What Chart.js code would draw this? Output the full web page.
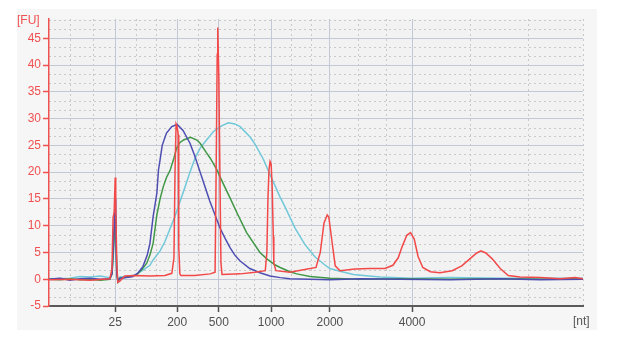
<!DOCTYPE html>
<html>
<head>
<meta charset="utf-8">
<script src="https://cdn.jsdelivr.net/npm/chart.js@4.4.1/dist/chart.umd.min.js"></script>
<style>
  html, body { margin: 0; padding: 0; background: #ffffff; }
  #wrap { position: relative; width: 618px; height: 351px; }
</style>
</head>
<body>
<div id="wrap"><canvas id="trace"></canvas></div>
<script>
// Migration axis (arbitrary units 0..100) and the ladder sizes shown as tick labels
const sizeTickPos = [12.4, 24.0, 31.8, 41.6, 52.6, 68.0];
const sizeTickLabels = ['25', '200', '500', '1000', '2000', '4000'];
const minorGridX = [3.9, 8.2, 16.3, 20.0, 27.9, 35.0, 38.4, 45.3, 49.1, 57.9, 63.1, 78.8, 89.7, 100];
const fuTicks = [-5, 0, 5, 10, 15, 20, 25, 30, 35, 40, 45];

// Ladder (red)
const ladderX = [0, 3.9, 7.7, 11.4, 11.8, 12.0, 12.2, 12.4, 12.5, 12.7, 12.9, 13.3, 14.2, 16.1, 18.9, 21.7,
  23.0, 23.4, 23.6, 23.8, 24.0, 24.2, 24.3, 24.5, 24.7, 27.3, 30.2, 31.1, 31.3, 31.5, 31.6, 31.8, 32.0, 32.2,
  32.4, 35.8, 38.6, 40.5, 40.8, 41.0, 41.2, 41.4, 41.6, 41.8, 42.0, 42.1, 42.5, 45.1, 47.9, 50.0, 50.8, 51.5,
  52.1, 52.4, 53.0, 53.6, 54.5, 57.3, 60.1, 62.9, 64.4, 65.4, 66.1, 67.0, 67.7, 68.4, 69.1, 70.0, 71.4, 73.2,
  75.5, 77.3, 78.8, 80.1, 80.9, 81.8, 83.0, 84.5, 86.0, 88.2, 92.0, 95.7, 98.5, 100];
const ladderFU = [-0.1, 0.0, -0.2, 0.1, 2.0, 11.5, 12.5, 19.0, 14.0, 2.5, -0.6, -0.3, 0.6, 0.7, 0.6, 0.7,
  1.1, 4.0, 20.0, 29.0, 28.5, 27.0, 6.0, 1.0, 0.7, 0.7, 1.0, 1.3, 20.0, 42.0, 47.0, 38.0, 20.0, 3.0,
  0.9, 1.0, 1.3, 1.6, 5.0, 15.0, 20.5, 22.0, 21.5, 17.0, 8.0, 3.0, 1.6, 1.3, 1.8, 2.2, 5.0, 10.5,
  12.0, 11.6, 7.0, 2.5, 1.6, 1.9, 2.0, 2.0, 2.6, 4.0, 6.0, 8.2, 8.7, 7.5, 4.3, 2.2, 1.4, 1.2,
  1.6, 2.5, 3.8, 4.9, 5.3, 4.9, 3.8, 2.0, 0.7, 0.4, 0.3, 0.1, 0.3, 0.1];

// Sample 1 (blue)
const blueX = [0, 2.1, 3.9, 5.8, 7.7, 9.6, 11.4, 11.8, 12.2, 12.4, 12.5, 12.7, 12.9, 13.3, 15.2, 15.7, 16.7,
  17.6, 18.4, 18.9, 19.5, 20.2, 20.5, 20.8, 21.2, 22.0, 23.0, 24.0, 25.1, 26.4, 27.3, 28.3, 29.2, 30.1, 31.1,
  32.0, 33.0, 33.9, 34.8, 35.8, 37.6, 39.5, 41.4, 43.3, 45.1, 48.9, 52.6, 58.2, 65.7, 75.1, 84.5, 92.0, 100];
const blueFU = [0.0, 0.2, -0.2, 0.1, 0.2, 0.0, 0.1, 1.0, 10.0, 15.0, 8.0, 1.0, -0.3, 0.2, 0.4, 0.5, 1.2,
  2.4, 4.5, 6.7, 11.7, 16.1, 20.4, 22.3, 25.0, 27.3, 28.5, 28.9, 27.8, 25.4, 23.0, 20.0, 17.3, 14.6, 12.0,
  9.6, 7.6, 5.9, 4.5, 3.4, 2.0, 1.2, 0.6, 0.3, 0.1, 0.0, -0.1, 0.1, 0.0, -0.1, 0.1, -0.1, 0.0];

// Sample 2 (green)
const greenX = [0, 2.1, 3.9, 5.8, 7.7, 9.6, 11.4, 11.8, 12.2, 12.4, 12.5, 12.7, 12.9, 13.3, 15.2, 16.4, 17.4,
  18.3, 18.9, 19.5, 20.2, 20.8, 21.4, 22.0, 22.7, 23.3, 23.9, 24.5, 25.2, 26.5, 27.7, 28.3, 29.5, 30.2, 31.4,
  32.6, 33.9, 35.1, 37.0, 39.5, 40.8, 42.3, 43.3, 45.1, 46.4, 48.9, 52.6, 58.2, 65.7, 75.1, 84.5, 92.0, 100];
const greenFU = [0.0, -0.1, 0.1, -0.1, 0.0, -0.2, 0.0, 1.0, 8.0, 12.0, 9.0, 1.0, -0.5, 0.2, 0.5, 0.8, 1.8,
  3.0, 4.5, 6.7, 12.0, 15.0, 17.3, 19.0, 20.4, 22.3, 24.5, 25.5, 26.0, 26.5, 26.0, 25.4, 23.6, 22.6, 20.5,
  17.9, 15.2, 12.6, 8.7, 5.0, 3.8, 2.7, 2.2, 1.4, 1.0, 0.5, 0.2, 0.0, 0.1, 0.0, 0.1, 0.0, 0.1];

// Sample 3 (cyan)
const cyanX = [0, 3.9, 5.8, 7.7, 9.6, 11.4, 11.8, 12.2, 12.4, 12.5, 12.7, 12.9, 13.3, 15.2, 16.1, 17.6, 18.9,
  19.5, 20.8, 21.7, 23.6, 25.5, 26.4, 27.3, 28.3, 29.5, 30.8, 32.4, 33.6, 34.8, 35.8, 37.7, 38.6, 40.1, 41.4,
  43.3, 44.2, 46.1, 47.9, 49.8, 51.5, 52.6, 54.5, 57.0, 58.9, 62.0, 67.9, 75.1, 84.5, 92.0, 100];
const cyanFU = [0.1, 0.2, 0.5, 0.4, 0.6, 0.3, 1.0, 7.0, 11.0, 7.0, 1.0, 0.0, 0.4, 0.6, 0.8, 1.7, 2.6,
  3.6, 5.3, 7.0, 11.8, 17.3, 20.0, 22.5, 24.5, 26.0, 27.6, 28.7, 29.2, 29.0, 28.5, 26.5, 25.2, 22.5, 19.5,
  15.3, 13.5, 9.5, 6.5, 4.2, 2.8, 2.0, 1.5, 0.9, 0.7, 0.4, 0.2, 0.3, 0.2, 0.2, 0.2];

function toPoints(xs, ys) {
    return xs.map((x, i) => ({ x: x, y: ys[i] }));
}

const labelFont = { family: 'Liberation Sans, Arial, sans-serif', size: 12 };

// panel background, plot background and the dotted minor grid
const backdrop = {
    id: 'backdrop',
    beforeDraw(chart) {
        const { ctx, chartArea: a, scales } = chart;
        ctx.save();
        ctx.fillStyle = '#f6f6f6';
        ctx.fillRect(17, 9, 580, 321);
        ctx.fillStyle = '#f2f2f3';
        ctx.fillRect(a.left, a.top, a.right - a.left, a.bottom - a.top);

        ctx.strokeStyle = '#c9c9c9';
        ctx.lineWidth = 1;
        ctx.setLineDash([2, 3]);
        minorGridX.forEach(v => {
            const px = Math.round(scales.x.getPixelForValue(v)) + 0.5;
            ctx.beginPath();
            ctx.moveTo(px, a.top);
            ctx.lineTo(px, a.bottom);
            ctx.stroke();
        });
        for (let v = -5; v < 48.6; v += 5 / 3) {
            if (Math.abs(v / 5 - Math.round(v / 5)) < 0.01) continue;
            const py = Math.round(scales.y.getPixelForValue(v)) + 0.5;
            ctx.beginPath();
            ctx.moveTo(a.left, py);
            ctx.lineTo(a.right, py);
            ctx.stroke();
        }
        ctx.restore();
    },
    afterDraw(chart) {
        const { ctx } = chart;
        ctx.save();
        ctx.font = '12px ' + labelFont.family;
        ctx.textBaseline = 'middle';
        ctx.fillStyle = '#f05050';
        ctx.textAlign = 'left';
        ctx.fillText('[FU]', 17, 21);
        ctx.fillStyle = '#555555';
        ctx.fillText('[nt]', 573, 322);
        ctx.restore();
    }
};

function initTraceChart() {
    const ctx = document.getElementById('trace').getContext('2d');
    new Chart(ctx, {
        type: 'line',
        data: {
            datasets: [
                { label: 'Ladder', data: toPoints(ladderX, ladderFU), borderColor: 'rgb(242, 72, 72)' },
                { label: 'Sample 1', data: toPoints(blueX, blueFU), borderColor: 'rgb(78, 78, 178)' },
                { label: 'Sample 2', data: toPoints(greenX, greenFU), borderColor: 'rgb(64, 152, 70)' },
                { label: 'Sample 3', data: toPoints(cyanX, cyanFU), borderColor: 'rgb(112, 200, 216)' }
            ]
        },
        options: {
            responsive: false,
            animation: false,
            layout: { padding: { top: 19, right: 35, left: 0, bottom: 0 } },
            elements: {
                point: { radius: 0 },
                line: { borderWidth: 1.5, tension: 0, fill: false }
            },
            plugins: {
                legend: { display: false },
                tooltip: { enabled: false }
            },
            scales: {
                x: {
                    type: 'linear',
                    min: 0,
                    max: 100,
                    afterBuildTicks: scale => { scale.ticks = sizeTickPos.map(v => ({ value: v })); },
                    afterFit: scale => { scale.height = 45; },
                    ticks: {
                        autoSkip: false,
                        maxRotation: 0,
                        color: '#505050',
                        font: labelFont,
                        padding: 3,
                        callback: (value, index) => sizeTickLabels[index]
                    },
                    grid: {
                        color: '#c2c8d6',
                        lineWidth: 1,
                        drawTicks: true,
                        tickLength: 6,
                        tickColor: '#505050',
                        tickWidth: 1.5
                    },
                    border: { color: '#5a5a5a', width: 2 }
                },
                y: {
                    min: -5,
                    max: 48.6,
                    afterBuildTicks: scale => { scale.ticks = fuTicks.map(v => ({ value: v })); },
                    afterFit: scale => { scale.width = 49; },
                    ticks: {
                        color: '#f05050',
                        font: labelFont,
                        padding: 2
                    },
                    grid: {
                        color: '#c2c8d6',
                        lineWidth: 1,
                        drawTicks: true,
                        tickLength: 6,
                        tickColor: '#f05050',
                        tickWidth: 1.5
                    },
                    border: { color: '#f05050', width: 1.5 }
                }
            }
        },
        plugins: [backdrop]
    });
}

const cv = document.getElementById('trace');
cv.width = 618;
cv.height = 351;
initTraceChart();
</script>
</body>
</html>
